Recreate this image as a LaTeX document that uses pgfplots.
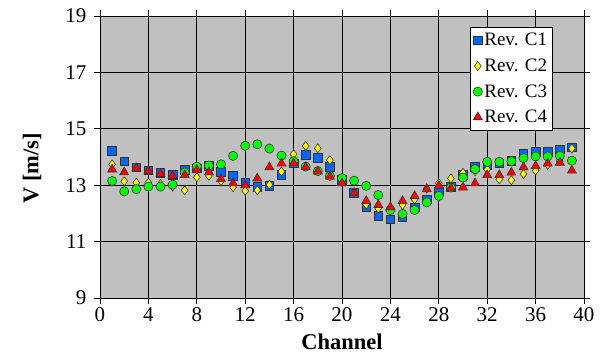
\documentclass[border=0pt]{standalone}
\usepackage{fontspec}
\setmainfont{Liberation Serif}
\usepackage{pgfplots}
\pgfplotsset{compat=1.18}
\definecolor{bgray}{RGB}{192,192,192}
\definecolor{cblue}{RGB}{0,102,255}
\definecolor{cyel}{RGB}{255,255,0}
\definecolor{cgreen}{RGB}{0,255,0}
\definecolor{cred}{RGB}{255,0,0}
\begin{document}
\begin{tikzpicture}
\begin{axis}[
  at={(0pt,0pt)}, anchor=south west,
  scale only axis, width=484pt, height=282pt,
  xmin=0, xmax=40, ymin=9, ymax=19,
  xtick={0,4,...,40}, ytick={9,11,...,19},
  xticklabels={0,4,8,12,16,20,24,28,32,36,40},
  yticklabels={9,11,13,15,17,19},
  grid=major, major grid style={black, line width=0.9pt},
  axis background/.style={fill=bgray},
  axis line style={black, line width=0.9pt},
  tick align=outside, major tick length=6pt,
  tick style={black, line width=0.9pt},
  tick label style={font=\fontsize{21}{24}\selectfont},
  yticklabel style={xshift=-4pt},
  xlabel={Channel}, ylabel={V [m/s]},
  label style={font=\fontsize{22.5}{26}\selectfont\bfseries},
  xlabel style={at={(axis description cs:0.5,-0.156)}, anchor=center},
  ylabel style={at={(axis description cs:-0.1405,0.46)}, anchor=center},
  legend style={at={(rel axis cs:0.764,0.961)}, anchor=north west,
    draw=black, fill=white, line width=0.8pt,
    font=\fontsize{19}{21}\selectfont, row sep=7.5pt,
    inner xsep=3pt, inner ysep=4pt,
    /tikz/every even column/.style={column sep=2pt}},
  legend cell align=left,
  legend image code/.code={\draw[#1] plot coordinates {(5pt,0pt)};},
  every axis plot/.append style={only marks, line width=0.6pt},
]
\addplot[mark=square*, mark size=4.3pt, mark options={fill=cblue, draw=black!80}] coordinates {
(1,14.22) (2,13.85) (3,13.63) (4,13.53) (5,13.44) (6,13.36) (7,13.55) (8,13.6) (9,13.68) (10,13.48)
(11,13.33) (12,13.1) (13,12.95) (14,12.97) (15,13.36) (16,13.77) (17,14.07) (18,13.98) (19,13.66) (20,13.2)
(21,12.74) (22,12.22) (23,11.92) (24,11.79) (25,11.88) (26,12.22) (27,12.5) (28,12.78) (29,12.95) (30,13.36)
(31,13.66) (32,13.72) (33,13.78) (34,13.87) (35,14.13) (36,14.19) (37,14.19) (38,14.27) (39,14.34)};
\addlegendentry{Rev. C1}
\addplot[mark=diamond*, mark size=4.5pt, mark options={fill=cyel, draw=black!80}] coordinates {
(1,13.74) (2,13.14) (3,13.09) (4,13.09) (5,13.04) (6,12.95) (7,12.82) (8,13.28) (9,13.33) (10,13.15)
(11,12.93) (12,12.8) (13,12.82) (14,13.02) (15,13.48) (16,14.1) (17,14.39) (18,14.31) (19,13.89) (20,13.12)
(21,12.75) (22,12.32) (23,12.18) (24,12.2) (25,12.3) (26,12.5) (27,12.88) (28,13.07) (29,13.24) (30,13.44)
(31,13.5) (32,13.56) (33,13.21) (34,13.18) (35,13.4) (36,13.52) (37,13.72) (38,13.85) (39,14.3)};
\addlegendentry{Rev. C2}
\addplot[mark=*, mark size=4.6pt, mark options={fill=cgreen, draw=black!80}] coordinates {
(1,13.15) (2,12.78) (3,12.86) (4,12.95) (5,12.95) (6,13.02) (7,13.45) (8,13.66) (9,13.7) (10,13.74)
(11,14.04) (12,14.4) (13,14.45) (14,14.3) (15,14.05) (16,13.85) (17,13.66) (18,13.5) (19,13.33) (20,13.25)
(21,13.16) (22,12.98) (23,12.65) (24,12.12) (25,11.98) (26,12.12) (27,12.39) (28,12.62) (29,12.92) (30,13.27)
(31,13.57) (32,13.83) (33,13.83) (34,13.85) (35,13.96) (36,14.02) (37,14.02) (38,14.04) (39,13.87)};
\addlegendentry{Rev. C3}
\addplot[mark=triangle*, mark size=5.2pt, mark options={fill=cred, draw=black!80}] coordinates {
(1,13.56) (2,13.46) (3,13.6) (4,13.5) (5,13.4) (6,13.33) (7,13.36) (8,13.54) (9,13.46) (10,13.22)
(11,13.07) (12,13.0) (13,13.24) (14,13.64) (15,13.77) (16,13.78) (17,13.64) (18,13.49) (19,13.31) (20,13.07)
(21,12.72) (22,12.44) (23,12.3) (24,12.22) (25,12.44) (26,12.62) (27,12.86) (28,12.98) (29,12.9) (30,12.92)
(31,13.07) (32,13.36) (33,13.36) (34,13.45) (35,13.64) (36,13.68) (37,13.77) (38,13.8) (39,13.52)};
\addlegendentry{Rev. C4}
\end{axis}
\pgfresetboundingbox
\path (-100pt,-56pt) rectangle (506pt,298pt);
\end{tikzpicture}
\end{document}
